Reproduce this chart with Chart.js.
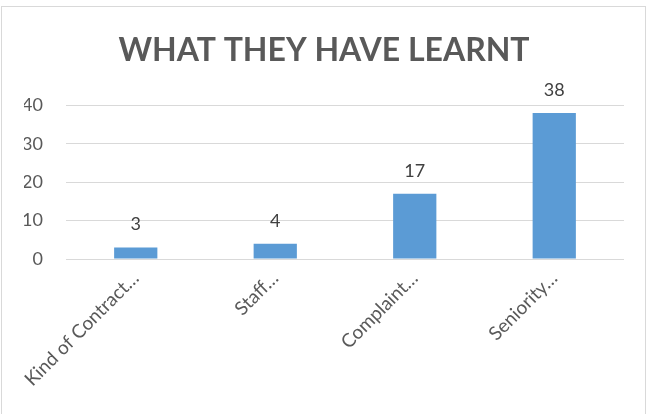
<!DOCTYPE html>
<html><head><meta charset="utf-8">
<script src="https://cdn.jsdelivr.net/npm/chart.js@4/dist/chart.umd.min.js"></script>
<style>html,body{margin:0;padding:0;background:#fff}#w{width:648px;height:414px;position:relative}</style>
</head><body><div id="w"><canvas id="c" width="648" height="414"></canvas></div>
<script>
const categories = ["Kind of Contract\u2026", "Staff\u2026", "Complaint\u2026", "Seniority\u2026"];
const values = [3, 4, 17, 38];
const yTicks = [0, 10, 20, 30, 40];
const titleText = "WHAT THEY HAVE LEARNT";

const FONT = "Lato, 'Open Sans', sans-serif";
const frame = {
  id: 'frame',
  beforeDraw(chart) {
    const ctx = chart.ctx;
    ctx.save();
    ctx.fillStyle = '#fff';
    ctx.fillRect(0, 0, chart.width, chart.height);
    ctx.strokeStyle = '#d9d9d9';
    ctx.lineWidth = 1;
    ctx.strokeRect(1.5, 6.5, 644, 420);
    ctx.restore();
  }
};
const labels = {
  id: 'labels',
  afterDatasetsDraw(chart) {
    const ctx = chart.ctx;
    const meta = chart.getDatasetMeta(0);
    ctx.save();
    ctx.font = "18px " + FONT;
    ctx.fillStyle = '#404040';
    ctx.textAlign = 'center';
    ctx.textBaseline = 'alphabetic';
    meta.data.forEach((bar, i) => {
      ctx.fillText(String(values[i]), bar.x, bar.y - 17);
    });
    ctx.restore();
  }
};

new Chart(document.getElementById('c'), {
  type: 'bar',
  data: {
    labels: categories,
    datasets: [{ data: values, backgroundColor: '#5b9bd5', barPercentage: 0.31, categoryPercentage: 1 }]
  },
  options: {
    responsive: false,
    animation: false,
    layout: { padding: { left: 24, right: 24, top: 0, bottom: 0 } },
    plugins: {
      legend: { display: false },
      tooltip: { enabled: false },
      title: {
        display: true, text: titleText, color: '#595959',
        font: { family: FONT, size: 32, weight: 'bold', lineHeight: 1.2 },
        padding: { top: 31, bottom: 36 }
      }
    },
    scales: {
      x: {
        grid: { display: false },
        border: { display: false },
        ticks: { color: '#595959', font: { family: FONT, size: 19 }, minRotation: 45, maxRotation: 45, padding: 0 },
        afterFit(s) { s.height = 414 - 259; }
      },
      y: {
        min: 0, max: 40,
        afterBuildTicks(s) { s.ticks = yTicks.map(v => ({ value: v })); },
        grid: { color: '#d9d9d9', lineWidth: 1, drawTicks: false },
        border: { display: false },
        ticks: { color: '#595959', font: { family: FONT, size: 18 }, padding: 23 },
        afterFit(s) { s.width = 42; }
      }
    }
  },
  plugins: [frame, labels]
});
</script></body></html>
